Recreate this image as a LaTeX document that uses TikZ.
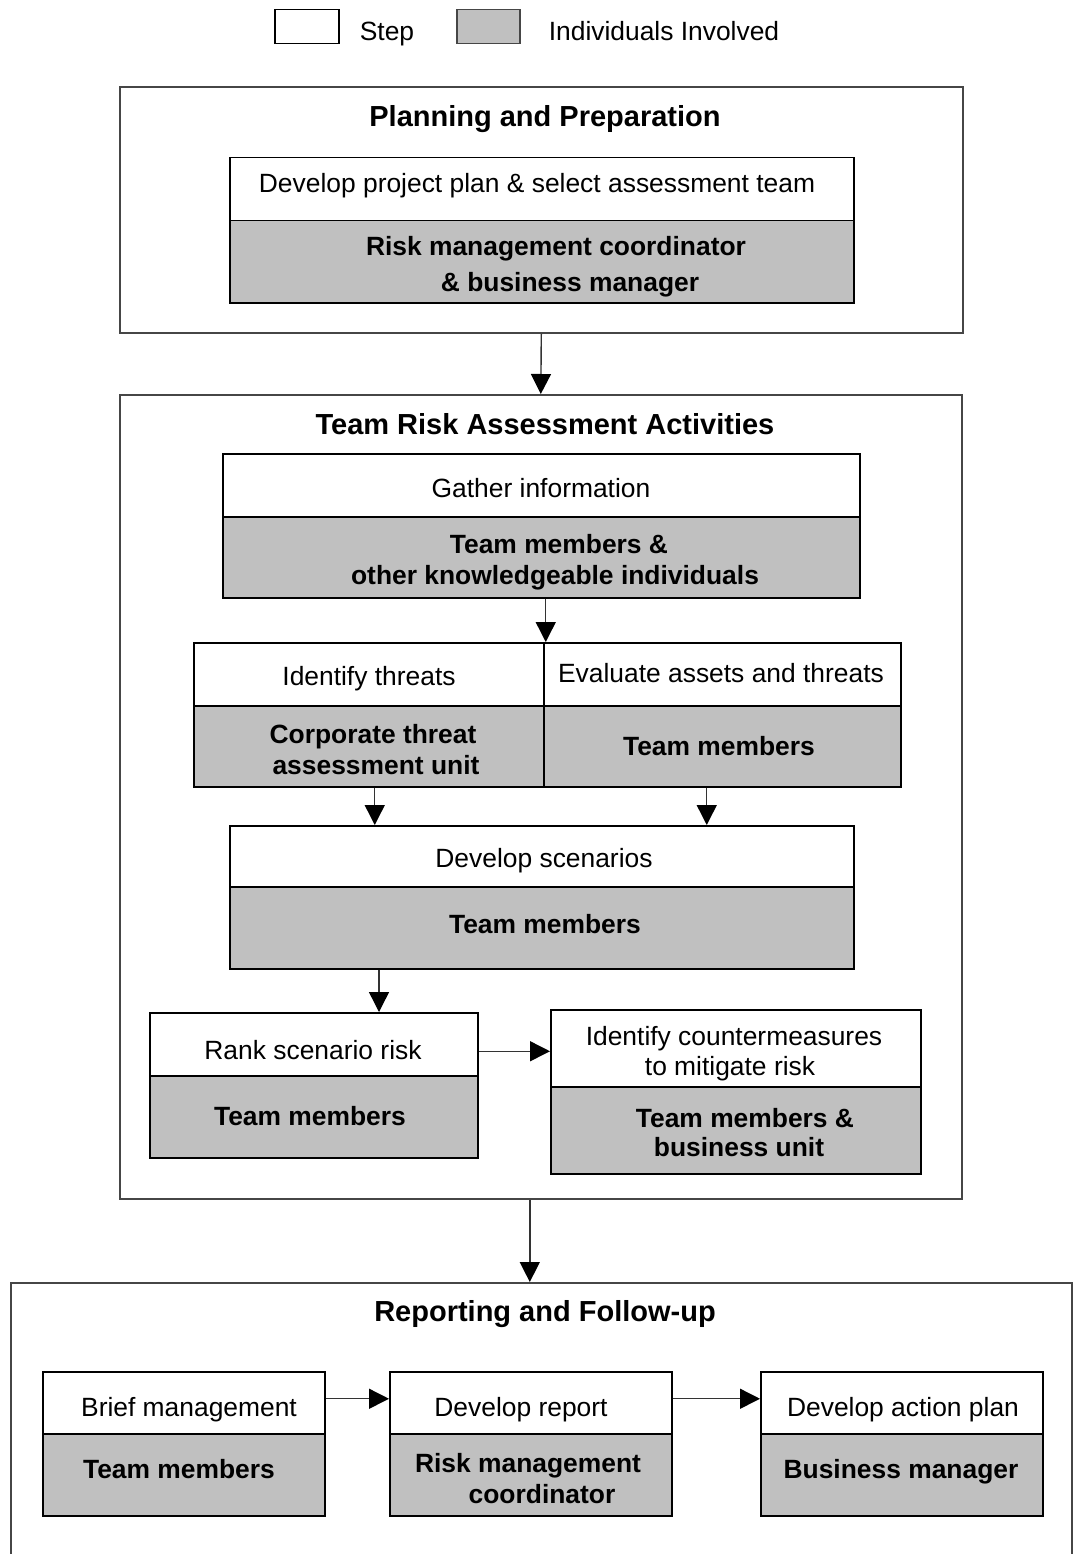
\documentclass[tikz,border=0pt]{standalone}
\usepackage{fontspec}
\setmainfont{Liberation Sans}
\usetikzlibrary{arrows.meta}
\definecolor{silverfill}{RGB}{192,192,192}
\definecolor{outerline}{RGB}{70,70,70}
\newcommand{\fsn}{\fontsize{26.4}{31}\selectfont}
\newcommand{\fst}{\fontsize{29}{34}\selectfont\bfseries}
\tikzset{
  outerbox/.style={draw=outerline, line width=1.6pt, anchor=north west, inner sep=0pt, fill=none},
  stepbox/.style={draw=black, line width=1.5pt, fill=white, anchor=north west, inner sep=0pt},
  whobox/.style={draw=black, line width=1.5pt, fill=silverfill, anchor=north west, inner sep=0pt},
  lbl/.style={anchor=base, inner sep=0pt, font=\fsn},
  blbl/.style={anchor=base, inner sep=0pt, font=\fsn\bfseries},
  ttl/.style={anchor=base, inner sep=0pt, font=\fst},
  arr/.style={draw=black!80, line width=1.4pt, -{Triangle[length=20pt,width=20pt,color=black]}}
}
\begin{document}
\begin{tikzpicture}[x=1pt,y=-1pt]
\useasboundingbox (0,0) rectangle (1073,1554);
\fill[white] (0,0) rectangle (1073,1554);

% legend
\node[stepbox, minimum width=64pt, minimum height=34pt] (legS) at (274,9) {};
\node[lbl] (legSt) at (387,41) {Step};
\node[whobox, draw=outerline, minimum width=63pt, minimum height=34pt] (legI) at (456,9) {};
\node[lbl] (legIt) at (664,41) {Individuals Involved};

% outer boxes
\node[outerbox, minimum width=843pt, minimum height=246pt] (box1) at (119,86) {};
\node[outerbox, minimum width=842pt, minimum height=804pt] (box2) at (119,394) {};
\node[outerbox, minimum width=1061pt, minimum height=330pt] (box3) at (10,1282) {};

\node[ttl] (t1) at (545,127) {Planning and Preparation};
\node[ttl] (t2) at (545,434) {Team Risk Assessment Activities};
\node[ttl] (t3) at (545,1321) {Reporting and Follow-up};

% planning
\node[stepbox, minimum width=624pt, minimum height=63pt] (planT) at (229,157) {};
\node[whobox, minimum width=624pt, minimum height=82pt] (planG) at (229,220) {};
\node[lbl] (planTt) at (537,193) {Develop project plan \& select assessment team};
\node[blbl] (planG1) at (556,255) {Risk management coordinator};
\node[blbl] (planG2) at (570,291) {\& business manager};

% gather
\node[stepbox, minimum width=637pt, minimum height=63pt] (gaT) at (222,453) {};
\node[whobox, minimum width=637pt, minimum height=81pt] (gaG) at (222,516) {};
\node[lbl] (gaTt) at (541,497) {Gather information};
\node[blbl] (gaG1) at (559,553) {Team members \&};
\node[blbl] (gaG2) at (555,584) {other knowledgeable individuals};

% identify threats / evaluate
\node[stepbox, minimum width=350pt, minimum height=63pt] (idT) at (193,642) {};
\node[whobox, minimum width=350pt, minimum height=81pt] (idG) at (193,705) {};
\node[stepbox, minimum width=357pt, minimum height=63pt] (evT) at (543,642) {};
\node[whobox, minimum width=357pt, minimum height=81pt] (evG) at (543,705) {};
\node[lbl] (idTt) at (369,685) {Identify threats};
\node[blbl] (idG1) at (373,743) {Corporate threat};
\node[blbl] (idG2) at (376,774) {assessment unit};
\node[lbl] (evTt) at (721,682) {Evaluate assets and threats};
\node[blbl] (evG1) at (719,755) {Team members};

% scenarios
\node[stepbox, minimum width=624pt, minimum height=61pt] (scT) at (229,825) {};
\node[whobox, minimum width=624pt, minimum height=82pt] (scG) at (229,886) {};
\node[lbl] (scTt) at (544,867) {Develop scenarios};
\node[blbl] (scG1) at (545,933) {Team members};

% rank
\node[stepbox, minimum width=328pt, minimum height=63pt] (rkT) at (149,1012) {};
\node[whobox, minimum width=328pt, minimum height=82pt] (rkG) at (149,1075) {};
\node[lbl] (rkTt) at (313,1059) {Rank scenario risk};
\node[blbl] (rkG1) at (310,1125) {Team members};

% countermeasures
\node[stepbox, minimum width=370pt, minimum height=77pt] (cmT) at (550,1009) {};
\node[whobox, minimum width=370pt, minimum height=87pt] (cmG) at (550,1086) {};
\node[lbl] (cmT1) at (734,1045) {Identify countermeasures};
\node[lbl] (cmT2) at (730,1075) {to mitigate risk};
\node[blbl] (cmG1) at (745,1127) {Team members \&};
\node[blbl] (cmG2) at (739,1156) {business unit};

% reporting
\node[stepbox, minimum width=282pt, minimum height=62pt] (brT) at (42,1371) {};
\node[whobox, minimum width=282pt, minimum height=82pt] (brG) at (42,1433) {};
\node[lbl] (brTt) at (189,1416) {Brief management};
\node[blbl] (brG1) at (179,1478) {Team members};

\node[stepbox, minimum width=282pt, minimum height=62pt] (reT) at (389,1371) {};
\node[whobox, minimum width=282pt, minimum height=82pt] (reG) at (389,1433) {};
\node[lbl] (reTt) at (521,1416) {Develop report};
\node[blbl] (reG1) at (528,1472) {Risk management};
\node[blbl] (reG2) at (542,1503) {coordinator};

\node[stepbox, minimum width=282pt, minimum height=62pt] (acT) at (760,1371) {};
\node[whobox, minimum width=282pt, minimum height=82pt] (acG) at (760,1433) {};
\node[lbl] (acTt) at (903,1416) {Develop action plan};
\node[blbl] (acG1) at (901,1478) {Business manager};

% connectors
\draw[arr] (box1.south) -- (box2.north);
\draw[arr] ([xshift=4.5pt]gaG.south) -- ([xshift=4.5pt]gaG.south |- idT.north);
\draw[arr] ([xshift=6pt]idG.south) -- ([xshift=6pt]idG.south |- scT.north);
\draw[arr] ([xshift=-15.5pt]evG.south) -- ([xshift=-15.5pt]evG.south |- scT.north);
\draw[arr] ([xshift=150pt]scG.south west) -- ([xshift=150pt]scG.south west |- rkT.north);
\draw[arr] ([yshift=-7pt]rkT.east) -- ([yshift=-7pt]rkT.east -| cmT.west);
\draw[arr] ([xshift=-11pt]box2.south) -- ([xshift=-11pt]box2.south |- box3.north);
\draw[arr] ([yshift=4pt]brT.east) -- ([yshift=4pt]brT.east -| reT.west);
\draw[arr] ([yshift=4pt]reT.east) -- ([yshift=4pt]reT.east -| acT.west);
\end{tikzpicture}
\end{document}
